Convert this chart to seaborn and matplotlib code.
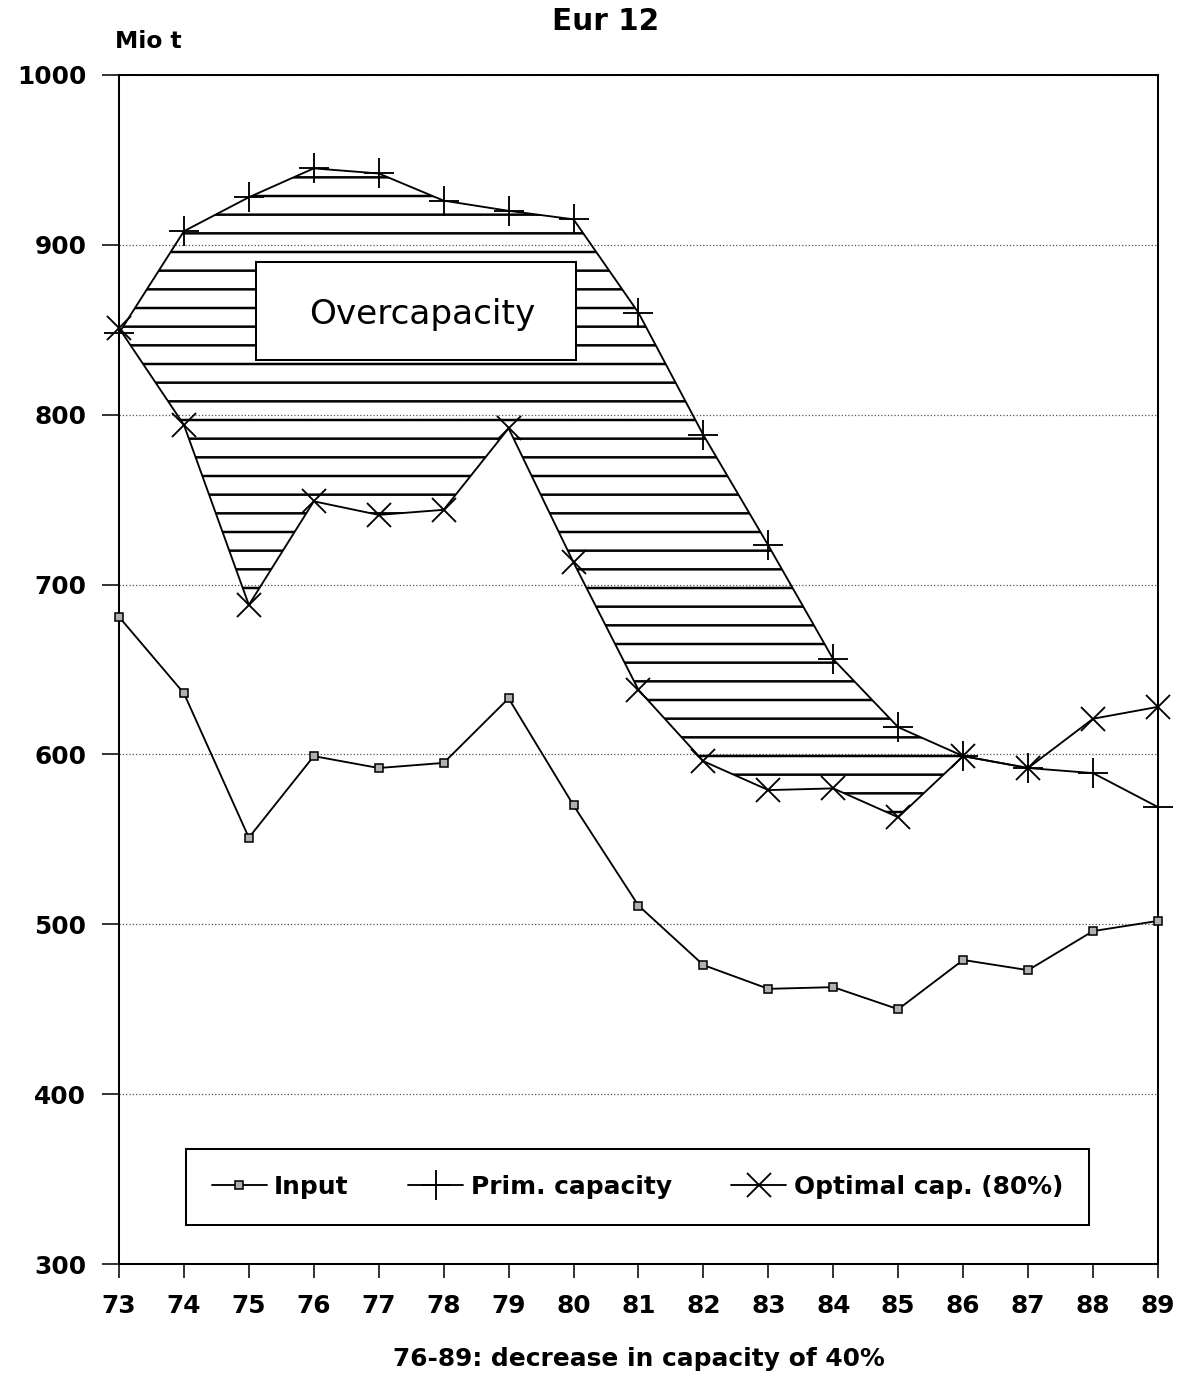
import matplotlib
matplotlib.use("Agg")
import matplotlib.pyplot as plt
from matplotlib.patches import Rectangle
import numpy as np
import pandas as pd
import seaborn as sns

# Data
years = [73, 74, 75, 76, 77, 78, 79, 80, 81, 82, 83, 84, 85, 86, 87, 88, 89]
input_vals = [681, 636, 551, 599, 592, 595, 633, 570, 511, 476, 462, 463, 450, 479, 473, 496, 502]
prim_cap = [848, 908, 928, 945, 942, 926, 920, 915, 860, 788, 723, 656, 616, 599, 592, 589, 569]
opt_cap = [851, 794, 688, 749, 741, 744, 792, 713, 638, 596, 579, 580, 563, 599, 592, 621, 628]
y_ticks = [300, 400, 500, 600, 700, 800, 900, 1000]

df = pd.DataFrame({"year": years, "input": input_vals, "prim": prim_cap, "opt": opt_cap})

# Styling
sns.set_style("ticks")
plt.rcParams["font.family"] = ["DejaVu Sans"]
plt.rcParams["font.weight"] = "bold"
plt.rcParams["text.color"] = "black"
plt.rcParams["axes.labelcolor"] = "black"
plt.rcParams["hatch.linewidth"] = 1.6
plt.rcParams["hatch.color"] = "black"

DPI = 112
fig = plt.figure(figsize=(1185 / DPI, 1375 / DPI), dpi=DPI)
ax = fig.add_axes([0.1004, 0.0807, 0.8768, 0.8648])

# Overcapacity hatch between the two capacity curves
ax.fill_between(df["year"], df["prim"], df["opt"], where=df["prim"] >= df["opt"],
                interpolate=True, facecolor="none", edgecolor="black",
                hatch="-", linewidth=0, zorder=1)

sns.lineplot(data=df, x="year", y="input", ax=ax, color="black", lw=1.2,
             marker="s", markersize=5, markerfacecolor="#b0b0b0",
             markeredgecolor="black", markeredgewidth=1.0, label="Input",
             zorder=4, clip_on=False)
sns.lineplot(data=df, x="year", y="prim", ax=ax, color="black", lw=1.2,
             marker="+", markersize=19, markeredgewidth=1.2,
             markeredgecolor="black", label="Prim. capacity", zorder=4,
             clip_on=False)
sns.lineplot(data=df, x="year", y="opt", ax=ax, color="black", lw=1.2,
             marker="x", markersize=16, markeredgewidth=1.2,
             markeredgecolor="black", label="Optimal cap. (80%)", zorder=4,
             clip_on=False)

# Overcapacity label box
ax.add_patch(Rectangle((75.11, 832), 4.93, 58, facecolor="white",
                       edgecolor="black", lw=1.3, zorder=3))
ax.text(77.67, 859, "Overcapacity", ha="center", va="center",
        fontsize=22, fontweight="normal", zorder=5)

ax.set_xlim(73, 89)
ax.set_ylim(300, 1000)
ax.set_xticks(years)
ax.set_yticks(y_ticks)
ax.yaxis.grid(True, linestyle=":", color="#555555", linewidth=0.8)
ax.xaxis.grid(False)
for s in ax.spines.values():
    s.set_visible(True)
    s.set_color("black")
    s.set_linewidth(1.3)

ax.tick_params(axis="x", direction="out", length=9, width=1.0, pad=10,
               labelsize=16, colors="black")
ax.tick_params(axis="y", direction="out", length=11, width=1.0, pad=10,
               labelsize=16, colors="black")
ax.set_xlabel("76-89: decrease in capacity of 40%", fontsize=16,
              fontweight="bold", labelpad=19)
ax.set_ylabel("")

leg = ax.legend(loc="center", bbox_to_anchor=(0.499, 0.065), ncol=3,
                frameon=True, fancybox=False, edgecolor="black", framealpha=1,
                fontsize=16, handlelength=2.2, handletextpad=0.3,
                columnspacing=2.4, borderpad=1.05)
leg.get_frame().set_linewidth(1.3)

fig.text(606 / 1185, 1 - 22 / 1375, "Eur 12", ha="center", va="center",
         fontsize=19, fontweight="bold")
fig.text(115 / 1185, 1 - 42 / 1375, "Mio t", ha="left", va="center",
         fontsize=15, fontweight="bold")

fig.savefig("out.png", dpi=DPI)
